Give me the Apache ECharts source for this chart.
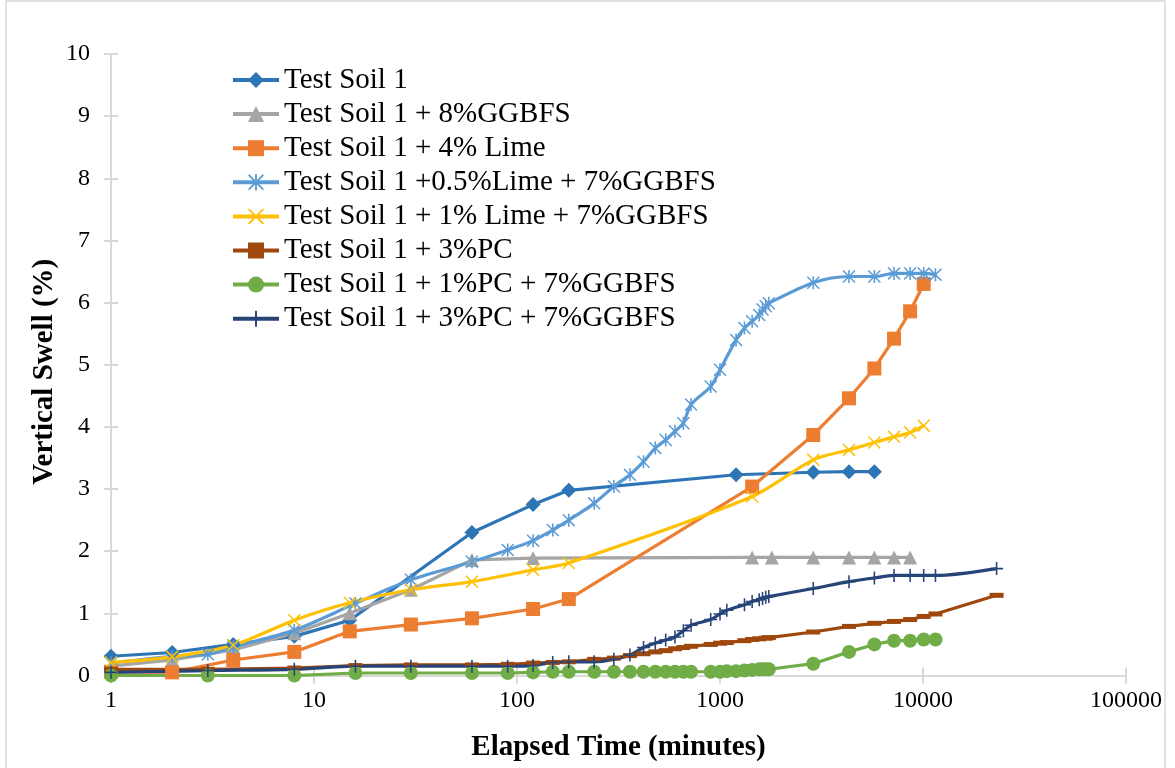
<!DOCTYPE html>
<html>
<head>
<meta charset="utf-8">
<title>Vertical Swell vs Elapsed Time</title>
<script src="https://cdn.jsdelivr.net/npm/echarts@6/dist/echarts.min.js"></script>
<style>
  html, body { margin: 0; padding: 0; background: #fff; }
  #chart { width: 1175px; height: 768px; }
</style>
</head>
<body>
<div id="chart"></div>
<script>
// --- dados (tempo em minutos, expansão vertical em %) ---
const seriesNames = [
  'Test Soil 1',
  'Test Soil 1 + 8%GGBFS',
  'Test Soil 1 + 4% Lime',
  'Test Soil 1 +0.5%Lime + 7%GGBFS',
  'Test Soil 1 + 1% Lime + 7%GGBFS',
  'Test Soil 1 + 3%PC',
  'Test Soil 1 + 1%PC + 7%GGBFS',
  'Test Soil 1 + 3%PC + 7%GGBFS'
];

const tSoil = [1, 2, 4, 8, 15, 60, 120, 180, 1200, 2880, 4320, 5760];
const vSoil = [0.31, 0.37, 0.50, 0.63, 0.89, 2.30, 2.75, 2.98, 3.23, 3.27, 3.28, 3.28];

const tGgbfs = [1, 2, 4, 8, 15, 30, 60, 120, 1440, 1800, 2880, 4320, 5760, 7200, 8640];
const vGgbfs = [0.15, 0.25, 0.41, 0.68, 1.00, 1.38, 1.86, 1.89, 1.90, 1.90, 1.90, 1.90, 1.90, 1.90, 1.90];

const tLime = [1, 2, 4, 8, 15, 30, 60, 120, 180, 1440, 2880, 4320, 5760, 7200, 8640, 10080];
const vLime = [0.06, 0.05, 0.25, 0.38, 0.71, 0.82, 0.92, 1.07, 1.23, 3.04, 3.87, 4.46, 4.94, 5.42, 5.86, 6.30];

const tLime05 = [1, 2, 3, 4, 8, 16, 30, 60, 90, 120, 150, 180, 240, 300, 360, 420, 480, 540, 600, 660, 720,
  900, 1000, 1200, 1320, 1440, 1560, 1620, 1680, 1740, 2880, 4320, 5760, 7200, 8640, 10080, 11520];
const vLime05 = [0.20, 0.31, 0.34, 0.46, 0.73, 1.16, 1.54, 1.83, 2.02, 2.17, 2.34, 2.50, 2.77, 3.04, 3.23, 3.44, 3.66, 3.79, 3.93, 4.06, 4.36,
  4.65, 4.92, 5.40, 5.59, 5.70, 5.80, 5.89, 5.94, 5.99, 6.32, 6.42, 6.42, 6.47, 6.47, 6.47, 6.45];

const tLime1 = [1, 2, 4, 8, 15, 30, 60, 120, 180, 1440, 2880, 4320, 5760, 7200, 8640, 10080];
const vLime1 = [0.21, 0.30, 0.49, 0.89, 1.17, 1.38, 1.51, 1.70, 1.81, 2.88, 3.47, 3.63, 3.75, 3.84, 3.91, 4.02];

const tPc = [1, 3, 8, 16, 30, 60, 90, 120, 150, 180, 240, 300, 360, 420, 480, 540, 600, 660, 720,
  900, 1000, 1080, 1320, 1440, 1560, 1680, 1740, 2880, 4320, 5760, 7200, 8640, 10080, 11520, 23040];
const vPc = [0.10, 0.10, 0.12, 0.16, 0.17, 0.17, 0.18, 0.20, 0.21, 0.22, 0.26, 0.28, 0.32, 0.35, 0.38, 0.40, 0.43, 0.45, 0.47,
  0.50, 0.52, 0.53, 0.56, 0.58, 0.59, 0.60, 0.61, 0.70, 0.79, 0.84, 0.87, 0.90, 0.95, 0.99, 1.29];

const tPc1 = [1, 3, 8, 16, 30, 60, 90, 120, 150, 180, 240, 300, 360, 420, 480, 540, 600, 660, 720,
  900, 1000, 1080, 1200, 1320, 1440, 1560, 1620, 1680, 1740, 2880, 4320, 5760, 7200, 8640, 10080, 11520];
const vPc1 = [0.00, 0.00, 0.00, 0.04, 0.04, 0.04, 0.04, 0.05, 0.06, 0.06, 0.06, 0.06, 0.06, 0.06, 0.06, 0.06, 0.06, 0.06, 0.06,
  0.06, 0.06, 0.07, 0.07, 0.08, 0.09, 0.10, 0.10, 0.10, 0.10, 0.19, 0.38, 0.50, 0.56, 0.56, 0.58, 0.58];

const tPc3 = [1, 3, 8, 16, 30, 60, 90, 120, 150, 180, 240, 300, 360, 420, 480, 540, 600, 660, 720,
  900, 1000, 1080, 1320, 1440, 1560, 1620, 1680, 1740, 2880, 4320, 5760, 7200, 8640, 10080, 11520, 23040];
const vPc3 = [0.05, 0.08, 0.10, 0.15, 0.15, 0.15, 0.15, 0.16, 0.21, 0.22, 0.22, 0.26, 0.33, 0.45, 0.52, 0.57, 0.62, 0.72, 0.81,
  0.90, 0.99, 1.05, 1.14, 1.19, 1.22, 1.24, 1.26, 1.27, 1.40, 1.51, 1.57, 1.61, 1.61, 1.61, 1.61, 1.72];

const xTicks = [1, 10, 100, 1000, 10000, 100000];

// marcadores tipo Excel
const SYM_PLUS  = 'path://M-1.2,-10L1.2,-10L1.2,10L-1.2,10Z M-10,-1.2L10,-1.2L10,1.2L-10,1.2Z';
const SYM_X     = 'path://M-10,-8.4L-8.4,-10L10,8.4L8.4,10Z M8.4,-10L10,-8.4L-8.4,10L-10,8.4Z';
const SYM_STAR  = 'path://M-10,-8.4L-8.4,-10L10,8.4L8.4,10Z M8.4,-10L10,-8.4L-8.4,10L-10,8.4Z M-1.2,-10L1.2,-10L1.2,10L-1.2,10Z';

const FONT = '"Liberation Serif", "Times New Roman", serif';

const pairs = (t, v) => t.map((x, i) => [x, v[i]]);

function mkSeries(name, color, t, v, symbol, size, smooth) {
  return {
    name, type: 'line',
    data: pairs(t, v),
    smooth: smooth || false,
    symbol, symbolSize: size,
    showAllSymbol: true,
    lineStyle: { color, width: 3.2 },
    itemStyle: { color, borderWidth: 0 },
    emphasis: { disabled: true },
    animation: false
  };
}

const chart = echarts.init(document.getElementById('chart'), null, { renderer: 'canvas' });

const axisGray = '#D9D9D9';

chart.setOption({
  backgroundColor: '#fff',
  animation: false,
  grid: { left: 111, right: 49, top: 54, bottom: 92.5, containLabel: false },
  legend: {
    orient: 'vertical',
    left: 231, top: 64.5,
    padding: 0,
    itemWidth: 46, itemHeight: 20,
    itemGap: 3.1,
    lineStyle: { width: 4 },
    textStyle: { fontFamily: FONT, fontSize: 29, color: '#000', lineHeight: 31 },
    data: seriesNames
  },
  xAxis: [{
    type: 'log', logBase: 10, min: 1, max: 100000,
    name: 'Elapsed Time (minutes)',
    nameLocation: 'middle', nameGap: 58, nameMoveOverlap: false,
    nameTextStyle: { fontFamily: FONT, fontSize: 29, fontWeight: 'bold', color: '#000' },
    axisLine: { lineStyle: { color: axisGray, width: 2 } },
    axisTick: { show: true, length: 8, lineStyle: { color: axisGray, width: 2 } },
    axisLabel: {
      fontFamily: FONT, fontSize: 24, color: '#000', margin: 13,
      formatter: v => xTicks.includes(Math.round(v)) ? String(Math.round(v)) : ''
    },
    splitLine: { show: false }, minorTick: { show: false }
  }, {
    // metade interna das marcas em cruz
    type: 'log', logBase: 10, min: 1, max: 100000, position: 'bottom',
    axisLine: { show: false },
    axisTick: { show: true, inside: true, length: 8, lineStyle: { color: axisGray, width: 2 } },
    axisLabel: { show: false }, splitLine: { show: false }
  }],
  yAxis: [{
    type: 'value', min: 0, max: 10, interval: 1,
    name: 'Vertical Swell (%)',
    nameLocation: 'middle', nameGap: 52, nameRotate: 90, nameMoveOverlap: false,
    nameTextStyle: { fontFamily: FONT, fontSize: 29, fontWeight: 'bold', color: '#000', padding: [0, 14, 0, 0] },
    axisLine: { show: true, lineStyle: { color: axisGray, width: 2 } },
    axisTick: { show: true, length: 7, lineStyle: { color: axisGray, width: 2 } },
    axisLabel: { fontFamily: FONT, fontSize: 24, color: '#000', margin: 21 },
    splitLine: { show: false }
  }, {
    type: 'value', min: 0, max: 10, interval: 1, position: 'left',
    axisLine: { show: false },
    axisTick: { show: true, inside: true, length: 7, lineStyle: { color: axisGray, width: 2 } },
    axisLabel: { show: false }, splitLine: { show: false }
  }],
  graphic: [{
    type: 'rect', silent: true, z: -1,
    shape: { x: 6, y: 1, width: 1159, height: 800 },
    style: { fill: 'none', stroke: axisGray, lineWidth: 1.5 }
  }],
  series: [
    mkSeries(seriesNames[0], '#2E75B6', tSoil,   vSoil,   'diamond',  15),
    mkSeries(seriesNames[1], '#A5A5A5', tGgbfs,  vGgbfs,  'triangle', 14),
    mkSeries(seriesNames[2], '#ED7D31', tLime,   vLime,   'rect',     14),
    mkSeries(seriesNames[3], '#5B9BD5', tLime05, vLime05, SYM_STAR,   13, 0.3),
    mkSeries(seriesNames[4], '#FFC000', tLime1,  vLime1,  SYM_X,      13, 0.3),
    mkSeries(seriesNames[5], '#9E480E', tPc,     vPc,     'rect',     [14, 5]),
    mkSeries(seriesNames[6], '#70AD47', tPc1,    vPc1,    'circle',   14),
    mkSeries(seriesNames[7], '#264478', tPc3,    vPc3,    SYM_PLUS,   13, 0.3)
  ]
});
</script>
</body>
</html>
